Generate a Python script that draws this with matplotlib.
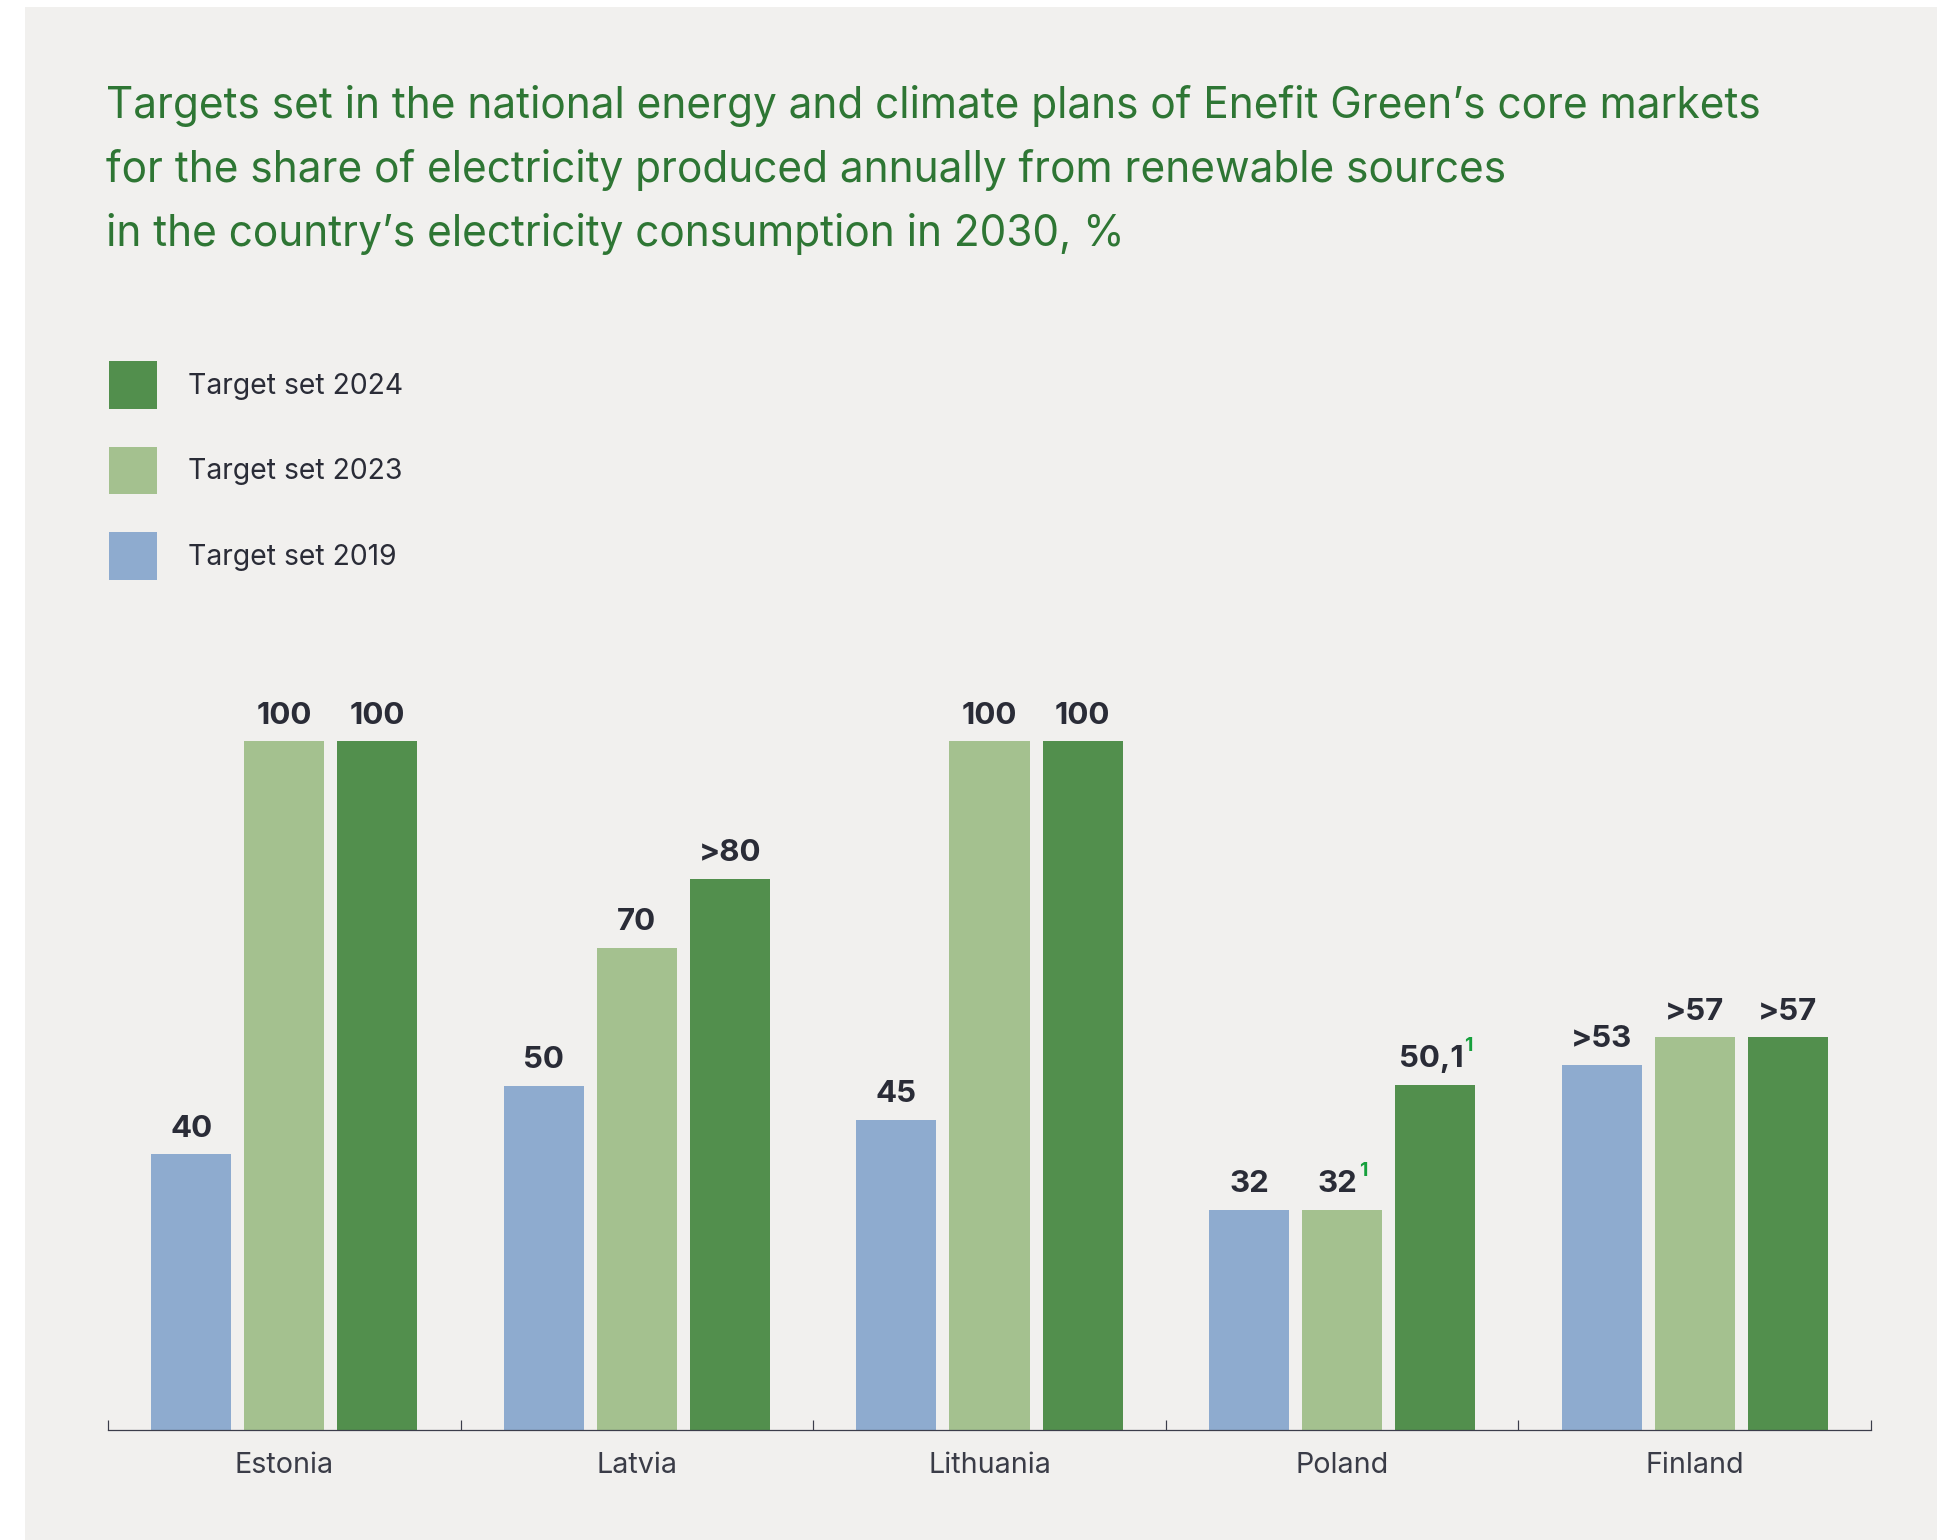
import matplotlib.pyplot as plt
from matplotlib.patches import Rectangle

plt.rcParams['font.family'] = ['Inter', 'DejaVu Sans']

countries = ['Estonia', 'Latvia', 'Lithuania', 'Poland', 'Finland']
series_names = ['Target set 2019', 'Target set 2023', 'Target set 2024']
target_2019 = [40, 50, 45, 32, 53]
target_2023 = [100, 70, 100, 32, 57]
target_2024 = [100, 80, 100, 50.1, 57]
labels_2019 = ['40', '50', '45', '32', '>53']
labels_2023 = ['100', '70', '100', '32', '>57']
labels_2024 = ['100', '>80', '100', '50,1', '>57']
# footnote markers shown next to some values
notes_2023 = ['', '', '', '1', '']
notes_2024 = ['', '', '', '1', '']

title_lines = [
    'Targets set in the national energy and climate plans of Enefit Green\u2019s core markets',
    'for the share of electricity produced annually from renewable sources',
    'in the country\u2019s electricity consumption in 2030, %',
]

colors = ['#8eabcf', '#a4c18f', '#528f4d']
text_dark = '#2a2c37'
title_green = '#2e7634'
note_green = '#16a03c'

W, H, DPI = 1937, 1540, 100
fig = plt.figure(figsize=(W / DPI, H / DPI), dpi=DPI, facecolor='white')

# light panel behind everything
fig.patches.append(Rectangle((25 / W, 0), 1 - 25 / W, 1 - 7 / H,
                             transform=fig.transFigure, facecolor='#f1f0ee',
                             edgecolor='none', zorder=-10))

ax = fig.add_axes([108 / W, 110 / H, (1871 - 108) / W, 689 / H])
ax.set_facecolor('none')

step = 0.2638
width = 0.2269
xs = range(len(countries))
series = [target_2019, target_2023, target_2024]
series_labels = [labels_2019, labels_2023, labels_2024]
series_notes = [[''] * 5, notes_2023, notes_2024]

bars = []
for k, (vals, col, name) in enumerate(zip(series, colors, series_names)):
    b = ax.bar([x + (k - 1) * step for x in xs], vals, width=width, color=col,
               label=name, zorder=2)
    bars.append(b)

ax.set_xlim(-0.5, len(countries) - 0.5)
ax.set_ylim(0, 100)
for s in ['left', 'right', 'top']:
    ax.spines[s].set_visible(False)
ax.spines['bottom'].set_color('#3b3d4a')
ax.spines['bottom'].set_linewidth(0.9)
ax.set_yticks([])
ax.set_xticks(list(xs))
ax.set_xticklabels(countries, fontsize=20.7, color='#3a3c47')
ax.tick_params(axis='x', which='major', length=0, pad=15.5)
ax.set_xticks([x - 0.5 for x in range(len(countries) + 1)], minor=True)
ax.tick_params(axis='x', which='minor', direction='in', length=7.2,
               width=0.86, color='#3b3d4a')

# value labels above bars
texts = []
for k in range(3):
    for i, x in enumerate(xs):
        xb = x + (k - 1) * step
        t = ax.annotate(series_labels[k][i], xy=(xb, series[k][i]),
                        xytext=(0, 12.6), textcoords='offset points',
                        ha='center', va='baseline', fontsize=22.5,
                        fontweight='bold', color=text_dark,
                        annotation_clip=False)
        texts.append((t, xb, series[k][i], series_notes[k][i]))

fig.canvas.draw()
for t, xb, v, note in texts:
    if not note:
        continue
    w_pt = t.get_window_extent().width * 72 / DPI
    shift = 3.0
    t.xyann = (-shift, 12.6)
    ax.annotate(note, xy=(xb, v), xytext=(w_pt / 2 - shift + 0.8, 24.0),
                textcoords='offset points', ha='left', va='baseline',
                fontsize=14, fontweight='bold', color=note_green,
                annotation_clip=False)

# legend, newest target first
handles = [bars[2], bars[1], bars[0]]
leg = ax.legend(handles, [series_names[2], series_names[1], series_names[0]],
                loc='upper left', bbox_to_anchor=(109 / W, 1 - 361 / H),
                bbox_transform=fig.transFigure, frameon=False, fontsize=20.4,
                handlelength=1.694, handleheight=2.229, handletextpad=1.094,
                labelspacing=1.324, borderpad=0, borderaxespad=0)
for txt in leg.get_texts():
    txt.set_color(text_dark)

# title, one line at a time
for line, base in zip(title_lines, [118.3, 181.7, 245.7]):
    fig.text(106 / W, 1 - base / H, line, fontsize=30.5, color=title_green,
             ha='left', va='baseline')

fig.savefig('out.png', dpi=DPI, facecolor=fig.get_facecolor())
